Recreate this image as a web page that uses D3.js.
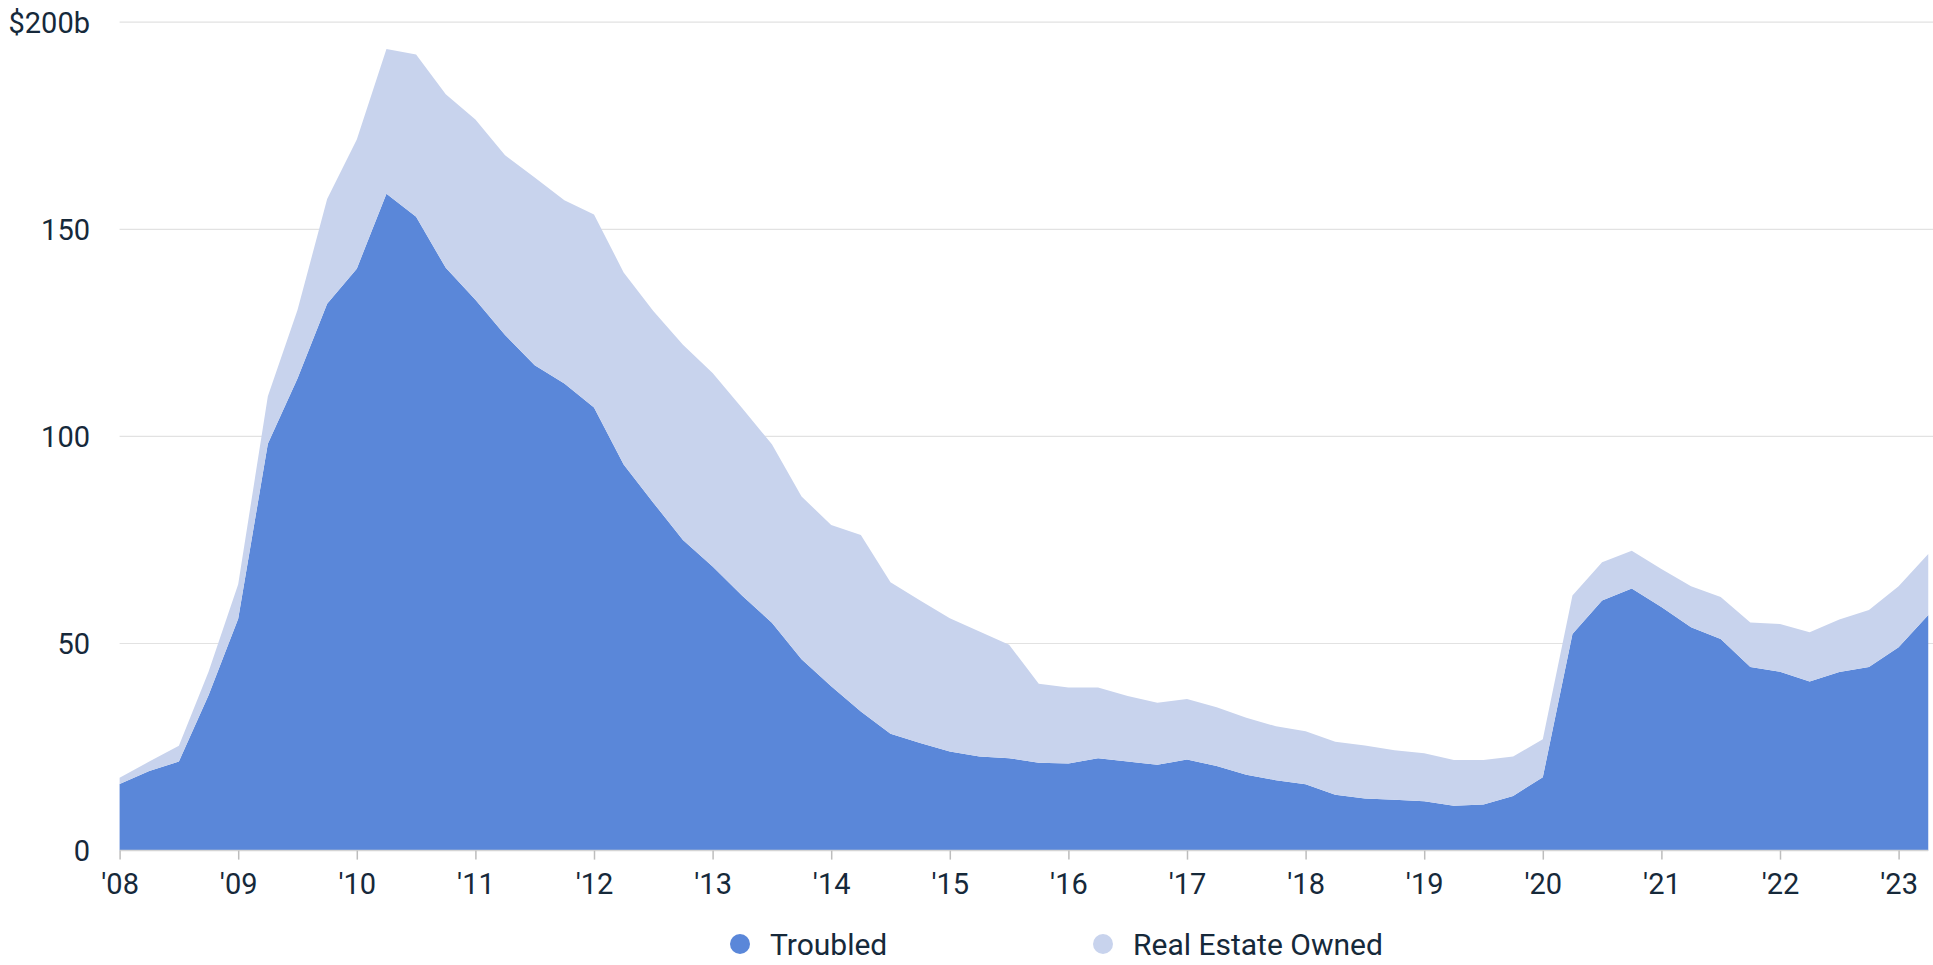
<!DOCTYPE html>
<html>
<head>
<meta charset="utf-8">
<script src="https://cdn.jsdelivr.net/npm/d3@7"></script>
<style>
  html, body { margin: 0; padding: 0; background: #fff; }
  svg { display: block; font-family: Roboto, "Noto Sans", sans-serif; }
</style>
</head>
<body>
<svg id="chart" width="1933" height="965"></svg>
<script>
// quarterly values, 2008 Q1 .. 2023 Q2, $ billions
var startYear = 2008;
var troubled = [
  16.1, 19.2, 21.5, 37.5,
  56.0, 98.2, 114.0, 132.0,
  140.5, 158.6, 153.0, 140.7,
  133.0, 124.5, 117.2, 112.8,
  107.0, 93.2, 84.0, 75.0,
  68.6, 61.5, 55.0, 46.2,
  39.7, 33.6, 28.2, 26.0,
  23.9, 22.7, 22.3, 21.2,
  21.0, 22.3, 21.5, 20.7,
  22.0, 20.4, 18.3, 17.0,
  16.0, 13.5, 12.6, 12.3,
  11.9, 10.8, 11.1, 13.2,
  17.7, 52.3, 60.4, 63.3,
  58.8, 53.9, 51.1, 44.3,
  43.2, 40.8, 43.1, 44.3,
  49.1, 56.9
];
var reo = [
  1.5, 2.3, 3.8, 5.7,
  8.3, 11.5, 16.5, 25.3,
  31.2, 34.9, 39.2, 41.9,
  43.5, 43.4, 45.3, 44.2,
  46.6, 46.4, 46.3, 47.1,
  46.7, 45.3, 43.1, 39.3,
  38.9, 42.6, 36.6, 34.4,
  32.2, 30.2, 27.4, 19.1,
  18.4, 17.1, 15.8, 15.0,
  14.6, 14.2, 13.8, 13.0,
  12.8, 12.8, 12.8, 11.9,
  11.6, 11.1, 10.8, 9.5,
  9.2, 9.3, 9.2, 9.1,
  9.2, 9.9, 10.1, 10.8,
  11.5, 11.9, 12.7, 13.8,
  14.7, 14.7
];
var seriesNames = ["Troubled", "Real Estate Owned"];
var seriesColors = ["#5a87d9", "#c8d3ed"];
var yTicks = [0, 50, 100, 150, 200];
var xTickYears = d3.range(2008, 2024);

var rows = troubled.map(function (t, i) {
  return { t: startYear + i * 0.25, troubled: t, reo: reo[i] };
});

var svg = d3.select("#chart");
var W = 1933;
var plotLeft = 119.6, plotBottom = 850.6, plotTop = 22.2;
var yearW = 118.6;
var plotRight = plotLeft + 15.25 * yearW;
var textColor = "#16293a";

var x = d3.scaleLinear()
  .domain([2008, 2023.25])
  .range([plotLeft, plotRight]);
var y = d3.scaleLinear().domain([0, 200]).range([plotBottom, plotTop]);

// gridlines
svg.append("g").selectAll("line")
  .data(yTicks.filter(function (d) { return d > 0; }))
  .enter().append("line")
    .attr("x1", plotLeft).attr("x2", W)
    .attr("y1", function (d) { return y(d); })
    .attr("y2", function (d) { return y(d); })
    .attr("stroke", "#e2e2e2")
    .attr("stroke-width", 1.2);

var stack = d3.stack().keys(["troubled", "reo"]);
var layers = stack(rows);

var area = d3.area()
  .x(function (d) { return x(d.data.t); })
  .y0(function (d) { return y(d[0]); })
  .y1(function (d) { return y(d[1]); });

svg.append("g").selectAll("path")
  .data(layers)
  .enter().append("path")
    .attr("d", area)
    .attr("fill", function (d, i) { return seriesColors[i]; });

// y labels
svg.append("g").selectAll("text")
  .data(yTicks)
  .enter().append("text")
    .attr("x", 90)
    .attr("y", function (d) { return y(d); })
    .attr("dy", "0.36em")
    .attr("text-anchor", "end")
    .attr("font-size", 29)
    .attr("fill", textColor)
    .text(function (d) { return d === 200 ? "$200b" : d; });

// x axis
var xAxis = d3.axisBottom(x)
  .tickValues(xTickYears)
  .tickSize(9)
  .tickPadding(14)
  .tickFormat(function (d) { return "'" + String(d).slice(2); });

var gx = svg.append("g")
  .attr("transform", "translate(0," + plotBottom + ")")
  .call(xAxis);
gx.select(".domain").attr("stroke", "#d4d4d4").attr("stroke-width", 1.5)
  .attr("d", "M" + plotLeft + ",0H" + plotRight);
gx.selectAll(".tick line").attr("stroke", "#bdbdbd").attr("stroke-width", 1.5);
gx.selectAll(".tick text")
  .attr("font-size", 29)
  .attr("font-family", "Roboto, sans-serif")
  .attr("fill", textColor);

// legend
var legendX = [740, 1103];
var leg = svg.append("g").selectAll("g")
  .data(seriesNames)
  .enter().append("g")
    .attr("transform", function (d, i) { return "translate(" + legendX[i] + ",944)"; });
leg.append("circle").attr("r", 10)
  .attr("fill", function (d, i) { return seriesColors[i]; });
leg.append("text")
  .attr("x", 30)
  .attr("dy", "0.36em")
  .attr("font-size", 30)
  .attr("fill", textColor)
  .text(function (d) { return d; });
</script>
</body>
</html>
